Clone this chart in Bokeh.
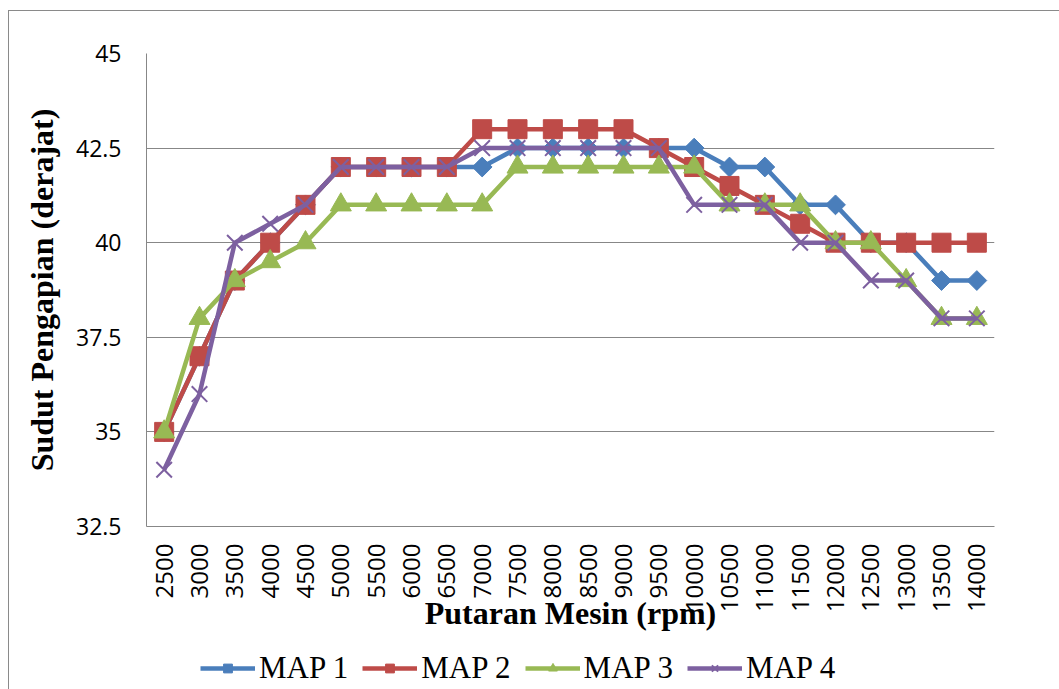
import math
from bokeh.plotting import figure
from bokeh.layouts import column
from bokeh.models import FactorRange, Range1d, FixedTicker, CustomJSTickFormatter, Legend, LegendItem
from bokeh.embed import file_html
from bokeh.resources import INLINE

rpm = ["2500", "3000", "3500", "4000", "4500", "5000", "5500", "6000", "6500", "7000",
       "7500", "8000", "8500", "9000", "9500", "10000", "10500", "11000", "11500", "12000",
       "12500", "13000", "13500", "14000"]
map1 = [35, 37, 39, 40, 41, 42, 42, 42, 42, 42, 42.5, 42.5, 42.5, 42.5, 42.5, 42.5, 42, 42, 41, 41, 40, 40, 39, 39]
map2 = [35, 37, 39, 40, 41, 42, 42, 42, 42, 43, 43, 43, 43, 43, 42.5, 42, 41.5, 41, 40.5, 40, 40, 40, 40, 40]
map3 = [35, 38, 39, 39.5, 40, 41, 41, 41, 41, 41, 42, 42, 42, 42, 42, 42, 41, 41, 41, 40, 40, 39, 38, 38]
map4 = [34, 36, 40, 40.5, 41, 42, 42, 42, 42, 42.5, 42.5, 42.5, 42.5, 42.5, 42.5, 41, 41, 41, 40, 40, 39, 39, 38, 38]
y_ticks = [32.5, 35, 37.5, 40, 42.5, 45]
series_names = ["MAP 1", "MAP 2", "MAP 3", "MAP 4"]

colors = ["#4A7EBB", "#BE4B48", "#98B954", "#7D60A0"]
grid_col = "#878787"

p = figure(x_range=FactorRange(*rpm), y_range=Range1d(32.5, 45),
           frame_width=848, frame_height=473, output_backend="svg", toolbar_location=None,
           min_border_left=137, min_border_top=42, min_border_right=66, min_border_bottom=110)
p.outline_line_color = None
p.background_fill_color = "white"

p.xgrid.grid_line_color = None
p.ygrid.grid_line_color = grid_col
p.ygrid.grid_line_width = 1

p.yaxis.ticker = FixedTicker(ticks=y_ticks)
p.yaxis.formatter = CustomJSTickFormatter(code="return tick.toString()")
for ax in (p.xaxis[0], p.yaxis[0]):
    ax.axis_line_color = grid_col
    ax.major_tick_out = 0
    ax.major_tick_in = 0
    ax.minor_tick_out = 0
    ax.minor_tick_in = 0
    ax.major_label_text_font = "Open Sans"
    ax.major_label_text_color = "black"
    ax.axis_label_text_font = "Liberation Serif"
    ax.axis_label_text_font_style = "bold"
    ax.axis_label_text_font_size = "32px"
    ax.axis_label_text_color = "black"

p.yaxis.major_label_text_font_size = "23px"
p.yaxis.major_label_standoff = 25
p.yaxis.axis_label = "Sudut Pengapian (derajat)"
p.yaxis.axis_label_standoff = 13

p.xaxis.major_label_text_font_size = "24px"
p.xaxis.major_label_orientation = math.pi / 2
p.xaxis.major_label_standoff = 17
p.xaxis.axis_label = "Putaran Mesin (rpm)"
p.xaxis.axis_label_standoff = -20

data = [map1, map2, map3, map4]
markers = [dict(marker="square", angle=math.pi / 4, size=14),
           dict(marker="square", size=19),
           dict(marker="triangle", size=21),
           dict(marker="x", size=22, line_width=2)]
for vals, col, mk in zip(data, colors, markers):
    p.line(rpm, vals, line_color=col, line_width=4.5, line_join="round")
    p.scatter(rpm, vals, fill_color=col, line_color=col, **mk)

# legend strip below the chart (its series lie outside its own view, only the legend shows)
lg = figure(width=1051, height=54, x_range=FactorRange(*rpm), y_range=Range1d(0, 1),
            output_backend="svg", toolbar_location=None, min_border=0)
lg.axis.visible = False
lg.grid.visible = False
lg.outline_line_color = None
items = []
for name, vals, col, mk in zip(series_names, data, colors, markers):
    ln = lg.line(rpm, vals, line_color=col, line_width=4.5)
    sc = lg.scatter(rpm, vals, fill_color=col, line_color=col, **mk)
    items.append(LegendItem(label=name, renderers=[ln, sc]))
legend = Legend(items=items, orientation="horizontal", location=(54, 4),
                label_text_font="Liberation Serif", label_text_font_size="31px",
                label_text_color="black", glyph_width=55, glyph_height=22,
                label_standoff=4, spacing=14, padding=0, margin=0,
                border_line_color=None, background_fill_alpha=0)
lg.add_layout(legend, "center")

layout = column(p, lg, spacing=0)
layout.styles = {"border-left": "1px solid #8a8a8a", "border-top": "1px solid #8a8a8a",
                 "margin-left": "8px", "margin-top": "10px"}

open("out.html", "w").write(file_html(layout, INLINE))
